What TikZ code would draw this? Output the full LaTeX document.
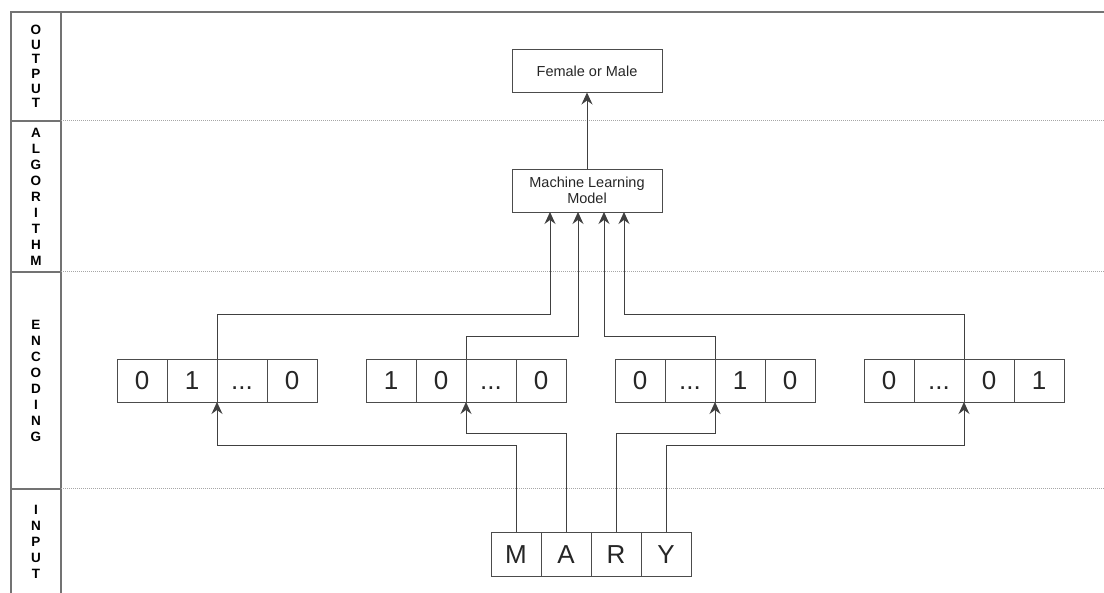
\documentclass[tikz,border=0pt]{standalone}
\usepackage{fontspec}
\setmainfont{Liberation Sans}
\usetikzlibrary{arrows.meta}

\begin{document}
\begin{tikzpicture}[x=1pt,y=-1pt]
\tikzstyle{every node}=[font=\fontsize{26pt}{30pt}\selectfont, text=black!85]
\tikzstyle{cell}=[draw=black!70, line width=0.9pt, minimum width=50pt, minimum height=43pt, inner sep=0pt, outer sep=0pt, text height=19pt, text depth=0pt]
\tikzstyle{box}=[draw=black!70, line width=0.9pt, minimum width=150pt, minimum height=43pt, inner sep=0pt, outer sep=0pt, align=center, font=\fontsize{14.5pt}{16.5pt}\selectfont]
\tikzstyle{lane}=[align=center, text=black, font=\fontsize{13.5pt}{16pt}\selectfont\bfseries]
\tikzstyle{wire}=[draw=black!75, line width=1pt]
\tikzstyle{arr}=[wire, -{Stealth[length=12pt,width=11pt,inset=4pt]}]
\tikzstyle{frame}=[draw=black!55, line width=1.2pt]
\tikzstyle{sep}=[draw=black!35, line width=1pt, densely dotted]
\useasboundingbox (0,0) rectangle (1104,593);
% lanes
\draw [frame] (1104,12) -- (11,12) -- (11,593);
\draw [frame] (61,12) -- (61,593);
\draw [frame] (11,121) -- (61,121);
\draw [frame] (11,272) -- (61,272);
\draw [frame] (11,489) -- (61,489);
\draw [sep] (61,121) -- (1104,121);
\draw [sep] (61,272) -- (1104,272);
\draw [sep] (61,489) -- (1104,489);
\node [lane, font=\fontsize{13.5pt}{14.6pt}\selectfont\bfseries] (lout) at (36,66.5) {O\\U\\T\\P\\U\\T};
\node [lane] (lalg) at (36,196.5) {A\\L\\G\\O\\R\\I\\T\\H\\M};
\node [lane] (lenc) at (36,380.5) {E\\N\\C\\O\\D\\I\\N\\G};
\node [lane] (linp) at (36,542) {I\\N\\P\\U\\T};
% output and model
\node [box] (out) at (587,71) {Female or Male};
\node [box] (ml) at (587,190.5) {Machine Learning\\Model};
% one-hot vectors
\node [cell] (b11) at (142,380.5) {0};
\node [cell] (b12) at (192,380.5) {1};
\node [cell] (b13) at (242,380.5) {...};
\node [cell] (b14) at (292,380.5) {0};
\node [cell] (b21) at (391,380.5) {1};
\node [cell] (b22) at (441,380.5) {0};
\node [cell] (b23) at (491,380.5) {...};
\node [cell] (b24) at (541,380.5) {0};
\node [cell] (b31) at (640,380.5) {0};
\node [cell] (b32) at (690,380.5) {...};
\node [cell] (b33) at (740,380.5) {1};
\node [cell] (b34) at (790,380.5) {0};
\node [cell] (b41) at (889,380.5) {0};
\node [cell] (b42) at (939,380.5) {...};
\node [cell] (b43) at (989,380.5) {0};
\node [cell] (b44) at (1039,380.5) {1};
% input name
\node [cell, minimum height=44pt] (m) at (516,554) {M};
\node [cell, minimum height=44pt] (a) at (566,554) {A};
\node [cell, minimum height=44pt] (r) at (616,554) {R};
\node [cell, minimum height=44pt] (y) at (666,554) {Y};
% letters to vectors
\draw [arr] (m.north) -- ++(0,-86) -| (b12.south east);
\draw [arr] (a.north) -- ++(0,-98) -| (b22.south east);
\draw [arr] (r.north) -- ++(0,-98) -| (b32.south east);
\draw [arr] (y.north) -- ++(0,-86) -| (b42.south east);
% vectors to model
\draw [arr] (b12.north east) -- ++(0,-44) -| ([xshift=-37pt]ml.south);
\draw [arr] (b22.north east) -- ++(0,-22) -| ([xshift=-9pt]ml.south);
\draw [arr] (b32.north east) -- ++(0,-22) -| ([xshift=17pt]ml.south);
\draw [arr] (b42.north east) -- ++(0,-44) -| ([xshift=37pt]ml.south);
\draw [arr] (ml.north) -- (out.south);
\end{tikzpicture}
\end{document}
